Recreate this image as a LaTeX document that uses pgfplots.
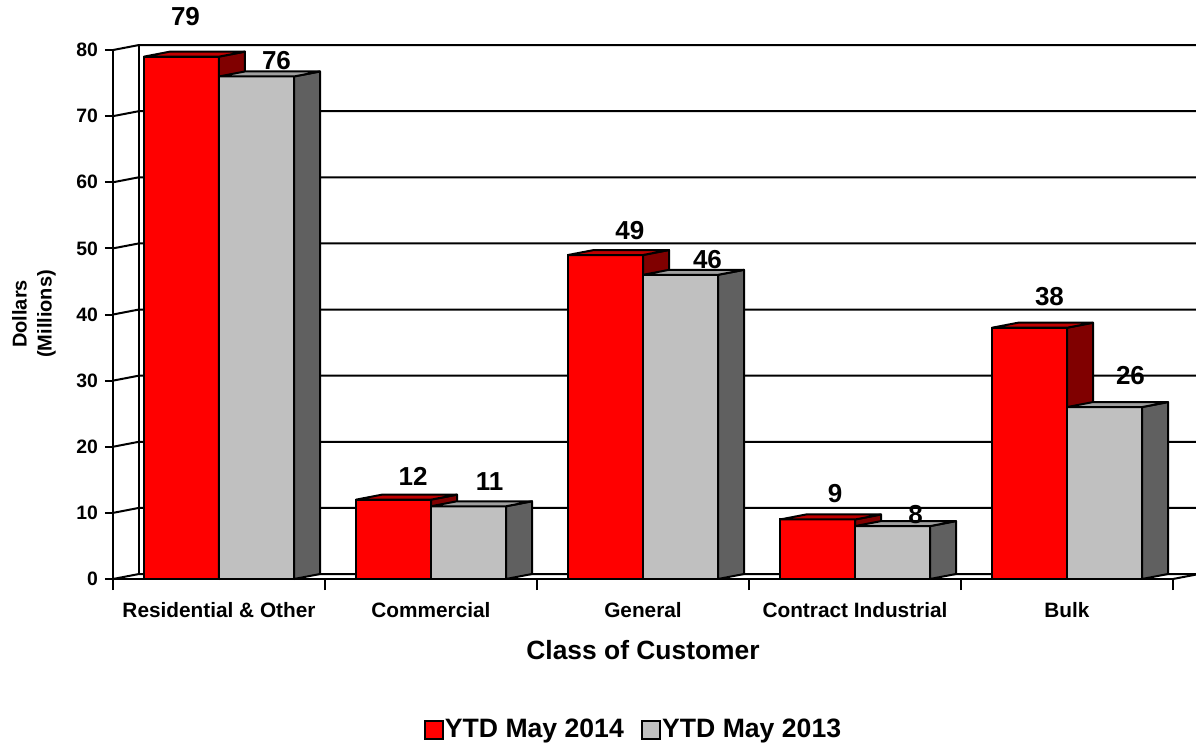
\documentclass[border=0pt]{standalone}
\usepackage{fontspec}
\setmainfont{Liberation Sans}
\usepackage{pgfplots}
\usepackage{pgfplotstable}
\pgfplotsset{compat=1.18}
\definecolor{redfront}{HTML}{FF0000}
\definecolor{redside}{HTML}{800000}
\definecolor{redtop}{HTML}{C00000}
\definecolor{grayfront}{HTML}{C0C0C0}
\definecolor{grayside}{HTML}{606060}
\definecolor{graytop}{HTML}{A0A0A0}

% x = category, v = value, lx/ly = label offset (pt) from bar top centre
\pgfplotstableread{
x v lx ly
0 79 2 19.8
1 12 9.8 11.6
2 49 12.2 12
3 9 8.8 13.1
4 38 10 15.4
}\ytdfourteen
\pgfplotstableread{
x v lx ly
0 76 10 8.2
1 11 10.5 12.6
2 46 13.5 7.4
3 8 11.5 5.7
4 26 13 15.6
}\ytdthirteen

% front, side and top faces of a bar, drawn at the bar's top (category centre, value)
% #1 left edge of front face relative to category centre, #2 front, #3 side, #4 top colour
\newcommand\cubefaces[4]{%
  \pgfmathsetlengthmacro\cubeh{\barv*3.30625pt}%
  \pgfmathsetlengthmacro\cubeL{#1}%
  \pgfmathsetlengthmacro\cubeR{#1+37.5pt}%
  \pgfsetlinewidth{1pt}%
  \pgfsetroundjoin
  \pgfsetstrokecolor{black}%
  % front
  \pgfpathrectanglecorners{\pgfpoint{\cubeL}{-\cubeh}}{\pgfpoint{\cubeR}{0pt}}%
  \pgfsetfillcolor{#2}%
  \pgfusepath{fill,stroke}%
  % side
  \pgfpathmoveto{\pgfpoint{\cubeR}{0pt}}%
  \pgfpathlineto{\pgfpoint{\cubeR+13pt}{2.5pt}}%
  \pgfpathlineto{\pgfpoint{\cubeR+13pt}{2.5pt-\cubeh}}%
  \pgfpathlineto{\pgfpoint{\cubeR}{-\cubeh}}%
  \pgfpathclose
  \pgfsetfillcolor{#3}%
  \pgfusepath{fill,stroke}%
  % top
  \pgfpathmoveto{\pgfpoint{\cubeL}{0pt}}%
  \pgfpathlineto{\pgfpoint{\cubeL+13pt}{2.5pt}}%
  \pgfpathlineto{\pgfpoint{\cubeR+13pt}{2.5pt}}%
  \pgfpathlineto{\pgfpoint{\cubeR}{0pt}}%
  \pgfpathclose
  \pgfsetfillcolor{#4}%
  \pgfusepath{fill,stroke}%
}
\pgfdeclareplotmark{redcube}{\cubefaces{-37.5pt}{redfront}{redside}{redtop}}
\pgfdeclareplotmark{graycube}{\cubefaces{0pt}{grayfront}{grayside}{graytop}}

\begin{document}
\begin{tikzpicture}
\path[use as bounding box] (0,0) rectangle (598pt,373pt);
\begin{axis}[
  at={(56.5pt,83.5pt)}, anchor=south west,
  scale only axis, width=530pt, height=264.5pt,
  xmin=-0.5, xmax=4.5, ymin=0, ymax=80,
  clip=false,
  axis x line*=bottom, axis y line*=left,
  axis line style={line width=1pt, -},
  xtick={0,...,4},
  xticklabels={Residential \& Other, Commercial, General, Contract Industrial, Bulk},
  minor xtick={-0.5,0.5,...,4.5},
  ytick={0,10,...,80},
  tick align=outside,
  major tick length=4pt, minor tick length=5.5pt,
  tick style={line width=1pt, black},
  major x tick style={draw=none},
  /pgf/number format/assume math mode=true,
  yticklabel style={font=\fontsize{9.7}{11}\selectfont\bfseries},
  xticklabel style={font=\fontsize{10.4}{12}\selectfont\bfseries, yshift=-4pt},
  xlabel={Class of Customer},
  xlabel style={at={(axis description cs:0.5,-0.134)}, anchor=center, font=\fontsize{13.2}{15}\selectfont\bfseries},
  ylabel={Dollars\\(Millions)},
  ylabel style={at={(axis description cs:-0.0745,0.501)}, anchor=center, align=center, font=\fontsize{10}{12.5}\selectfont\bfseries},
  legend columns=2,
  legend style={at={(axis description cs:0.4906,-0.285)}, anchor=center, draw=none, fill=none,
    font=\fontsize{13.3}{15}\selectfont\bfseries, inner sep=0pt, nodes={inner sep=0.6pt},
    /tikz/every even column/.append style={column sep=8pt}},
  legend image code/.code={\draw[#1, line width=1pt] (0pt,-4.5pt) rectangle (9pt,4.5pt);},
]
% side wall connectors + back wall gridlines
\pgfplotsinvokeforeach{0,10,...,80}{
  \draw[line width=1pt] (axis cs:-0.5,#1) -- ++(13pt,2.5pt) -- ++(620pt,0pt);
}
\draw[line width=1pt] ([xshift=13pt,yshift=2.5pt]axis cs:-0.5,0) -- ([xshift=13pt,yshift=2.5pt]axis cs:-0.5,80);
\draw[line width=1pt] (axis cs:4.5,0) -- ++(13pt,2.5pt);

% YTD May 2014
\addplot[ybar, bar width=37.5pt, bar shift=-18.75pt, fill=redfront, draw=black, line width=1pt]
  table[x=x, y=v] {\ytdfourteen};
\addlegendentry{YTD May 2014}
% YTD May 2013
\addplot[ybar, bar width=37.5pt, bar shift=18.75pt, fill=grayfront, draw=black, line width=1pt]
  table[x=x, y=v] {\ytdthirteen};
\addlegendentry{YTD May 2013}

% 3-D faces of the bars (red first, so the grey bars stand in front of the red sides)
\addplot[forget plot, only marks, mark=redcube, scatter,
  scatter/@pre marker code/.code={},
  scatter/@post marker code/.code={},
  visualization depends on={\thisrow{v} \as \barv},
] table[x=x, y=v] {\ytdfourteen};
\addplot[forget plot, only marks, mark=graycube, scatter,
  scatter/@pre marker code/.code={},
  scatter/@post marker code/.code={},
  visualization depends on={\thisrow{v} \as \barv},
] table[x=x, y=v] {\ytdthirteen};

% value labels
\addplot[forget plot, only marks, mark=none,
  visualization depends on={\thisrow{lx} \as \lblx},
  visualization depends on={\thisrow{ly} \as \lbly},
  nodes near coords,
  every node near coord/.append style={anchor=center, inner sep=0pt, text=black,
    xshift=\lblx pt-18.75pt, yshift=\lbly pt, font=\fontsize{13}{15}\selectfont\bfseries},
] table[x=x, y=v] {\ytdfourteen};
\addplot[forget plot, only marks, mark=none,
  visualization depends on={\thisrow{lx} \as \lblx},
  visualization depends on={\thisrow{ly} \as \lbly},
  nodes near coords,
  every node near coord/.append style={anchor=center, inner sep=0pt, text=black,
    xshift=\lblx pt+18.75pt, yshift=\lbly pt, font=\fontsize{13}{15}\selectfont\bfseries},
] table[x=x, y=v] {\ytdthirteen};
\end{axis}
\end{tikzpicture}
\end{document}
